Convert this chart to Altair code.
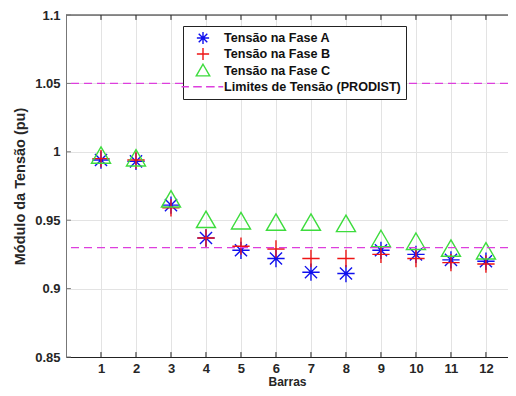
import altair as alt
import pandas as pd

barras = list(range(1, 13))
fase_a = [0.994, 0.993, 0.961, 0.937, 0.928, 0.922, 0.912, 0.911, 0.928, 0.925, 0.921, 0.920]
fase_b = [0.995, 0.994, 0.959, 0.937, 0.931, 0.929, 0.922, 0.922, 0.925, 0.922, 0.919, 0.918]
fase_c = [0.997, 0.995, 0.965, 0.950, 0.949, 0.948, 0.948, 0.947, 0.936, 0.934, 0.929, 0.927]
limites = [1.05, 0.93]
series = ["Tensão na Fase A", "Tensão na Fase B", "Tensão na Fase C", "Limites de Tensão (PRODIST)"]
y_ticks = [0.85, 0.9, 0.95, 1.0, 1.05, 1.1]

FONT = "Liberation Sans"

rows = []
for name, vals in zip(series[:3], [fase_a, fase_b, fase_c]):
    for b, v in zip(barras, vals):
        rows.append({"bar": b, "tensao": v, "serie": name})
pts = pd.DataFrame(rows)
lim_df = pd.DataFrame({"lim": limites})
xt_df = pd.DataFrame({"bar": barras})
yt_df = pd.DataFrame({"v": y_ticks})

xscale = alt.Scale(domain=[0, 12.63], nice=False, zero=False)
yscale = alt.Scale(domain=[0.85, 1.1], nice=False, zero=False)

asterisk = "M-1,0L1,0M0,-1L0,1M-0.7,-0.7L0.7,0.7M-0.7,0.7L0.7,-0.7"
plus = "M-1,0L1,0M0,-1L0,1"
tri = "M0,-1.05L1.1,0.85L-1.1,0.85Z"
dash = "M-3.5,0L-2.3,0M-1.6,0L-0.2,0M0.5,0L1.9,0M2.5,0L3.3,0"
colors = ["#1010ee", "#ee1515", "#3ddc3d", "#dd3fdd"]

xaxis = alt.Axis(values=barras, title="Barras", grid=True, gridColor="#e3e3e3",
                 ticks=False, tickSize=0, domainColor="#222222", labelFont=FONT,
                 labelFontSize=13, labelFontWeight="bold", labelColor="#262626",
                 labelPadding=5, titleFont=FONT, titleFontSize=12,
                 titleFontWeight="bold", titleColor="#262626",
                 titleBaseline="alphabetic", titleY=28.5)
yaxis = alt.Axis(values=y_ticks, format="~g", title="Módulo da Tensão (pu)", grid=True,
                 gridColor="#e3e3e3", ticks=False, tickSize=0, domainColor="#777777",
                 labelFont=FONT, labelFontSize=13, labelFontWeight="bold",
                 labelColor="#262626", labelPadding=6, titleFont=FONT,
                 titleFontSize=14.5, titleFontWeight="bold", titleColor="#262626",
                 titlePadding=7)

legend = alt.Legend(title=None, orient="none", legendX=117, legendY=11,
                    symbolSize=150, symbolStrokeWidth=1.4,
                    symbolOffset=8, labelOffset=14, padding=5,
                    rowPadding=-2.3, strokeColor="#222222",
                    fillColor="white", labelFont=FONT,
                    labelFontSize=12.6, labelFontWeight="bold",
                    labelColor="#111111", labelLimit=400)

X = lambda f: alt.X(f, scale=xscale, axis=xaxis)
Y = lambda f: alt.Y(f, scale=yscale, axis=yaxis)

points = alt.Chart(pts).mark_point(filled=False, size=300, strokeWidth=1.4, opacity=1).encode(
    x=X("bar:Q"),
    y=Y("tensao:Q"),
    stroke=alt.Stroke("serie:N", scale=alt.Scale(domain=series, range=colors), legend=legend),
    shape=alt.Shape("serie:N", scale=alt.Scale(domain=series, range=[asterisk, plus, tri, dash]),
                    legend=legend),
)

lim_rules = alt.Chart(lim_df).mark_rule(color="#dd3fdd", strokeWidth=1.3, strokeDash=[8, 5]).encode(
    y=Y("lim:Q")
)

top_line = alt.Chart(yt_df).transform_aggregate(top="max(v)").mark_rule(
    color="#222222", strokeWidth=1).encode(y=Y("top:Q"))

bottom_ticks = alt.Chart(xt_df).transform_calculate(y0="0.85", y1="0.8536").mark_rule(
    color="#222222", strokeWidth=1).encode(x=X("bar:Q"), y=Y("y0:Q"), y2="y1:Q")
top_ticks = alt.Chart(xt_df).transform_calculate(y0="1.1", y1="1.0964").mark_rule(
    color="#222222", strokeWidth=1).encode(x=X("bar:Q"), y=Y("y0:Q"), y2="y1:Q")
left_ticks = alt.Chart(yt_df).transform_calculate(x0="0", x1="0.14").mark_rule(
    color="#777777", strokeWidth=1).encode(y=Y("v:Q"), x=X("x0:Q"), x2="x1:Q")

chart = alt.layer(points, lim_rules, top_line, bottom_ticks, top_ticks, left_ticks).properties(
    width=442, height=342,
    autosize=alt.AutoSizeParams(type="none"),
    padding={"left": 58, "top": 7, "right": 0, "bottom": 31},
).configure_view(stroke=None).configure(background="white")

chart.save("out.html", embed_options={"renderer": "svg", "actions": False})
